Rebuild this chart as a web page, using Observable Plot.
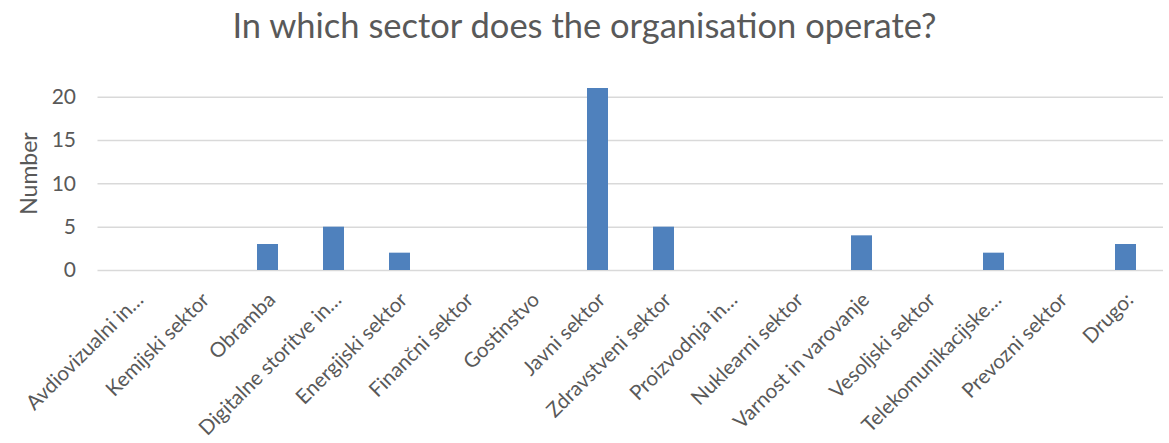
<!DOCTYPE html>
<html>
<head>
<meta charset="utf-8">
<script src="https://cdn.jsdelivr.net/npm/d3@7"></script>
<script src="https://cdn.jsdelivr.net/npm/@observablehq/plot@0.6"></script>
<style>
  html, body { margin: 0; padding: 0; background: #fff; }
  body { width: 1169px; height: 443px; overflow: hidden; font-family: Lato, "Open Sans", sans-serif; }
  #title { height: 60px; line-height: 50px; text-align: center; font-size: 34.5px; color: #595959; }
</style>
</head>
<body>
<div id="title">In which sector does the organisation operate?</div>
<div id="chart"></div>
<script>
const categories = [
  "Avdiovizualni in…", "Kemijski sektor", "Obramba", "Digitalne storitve in…",
  "Energijski sektor", "Finančni sektor", "Gostinstvo", "Javni sektor",
  "Zdravstveni sektor", "Proizvodnja in…", "Nuklearni sektor", "Varnost in varovanje",
  "Vesoljski sektor", "Telekomunikacijske…", "Prevozni sektor", "Drugo:"
];
const values = [0, 0, 3, 5, 2, 0, 0, 21, 5, 0, 0, 4, 0, 2, 0, 3];
const yTicks = [0, 5, 10, 15, 20];
const yLabel = "Number";

const data = categories.map((c, i) => ({category: c, value: values[i]}));

const chart = Plot.plot({
  width: 1169,
  height: 383,
  marginLeft: 97.5,
  marginRight: 6,
  marginTop: 28,
  marginBottom: 173,
  style: {fontFamily: "Lato, 'Open Sans', sans-serif", fontSize: "21px", color: "#595959", background: "#fff"},
  x: {domain: categories, paddingInner: 0.68, paddingOuter: 0.34, label: null},
  y: {domain: [0, 21], label: null},
  marks: [
    Plot.gridY(yTicks, {stroke: "#d9d9d9", strokeOpacity: 1, strokeWidth: 1.5}),
    Plot.barY(data, {x: "category", y: "value", fill: "#4f81bd"}),
    Plot.axisY(yTicks, {tickSize: 0, tickPadding: 22, label: null, fontSize: 21}),
    Plot.text([yLabel], {frameAnchor: "left", textAnchor: "middle", rotate: -90, dx: -68, dy: -6, fontSize: 23, fill: "#595959"}),
    Plot.axisX({tickSize: 0, tickPadding: 26, dx: 4, tickRotate: -45, label: null, fontSize: 20.5})
  ]
});
document.getElementById("chart").appendChild(chart);
</script>
</body>
</html>
